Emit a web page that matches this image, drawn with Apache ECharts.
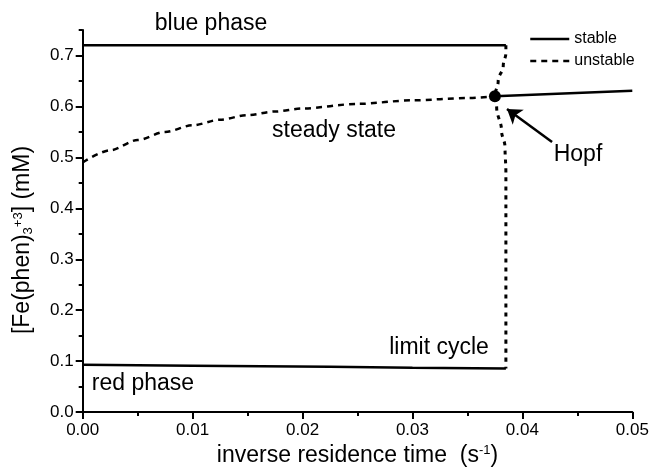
<!DOCTYPE html>
<html>
<head>
<meta charset="utf-8">
<script src="https://cdn.jsdelivr.net/npm/echarts@6/dist/echarts.min.js"></script>
<style>
  html, body { margin: 0; padding: 0; background: #fff; }
  #chart { width: 653px; height: 472px; }
</style>
</head>
<body>
<div id="chart"></div>
<script>
// ticks
var xMajorTicks = [0, 0.01, 0.02, 0.03, 0.04, 0.05];
var xMinorTicks = [0.005, 0.015, 0.025, 0.035, 0.045];
var yMajorTicks = [0, 0.1, 0.2, 0.3, 0.4, 0.5, 0.6, 0.7];
var yMinorTicks = [0.05, 0.15, 0.25, 0.35, 0.45, 0.55, 0.65, 0.75];

// stable branches
var bluePhase = [[0, 0.72], [0.0385, 0.72]];
var redPhase = [[0, 0.093], [0.01, 0.091], [0.0225, 0.089], [0.03, 0.087], [0.0385, 0.0856]];
var stableSteady = [[0.0375, 0.62], [0.05, 0.631]];

// unstable branches
var unstableSteady = [
    [0, 0.49], [0.0025, 0.514], [0.005, 0.534], [0.0075, 0.55], [0.01, 0.563],
    [0.0125, 0.574], [0.015, 0.583], [0.0175, 0.59], [0.02, 0.596], [0.025, 0.605],
    [0.03, 0.612], [0.035, 0.6165], [0.0375, 0.62]
];
var unstableCycle = [
    [0.0385, 0.72], [0.0385, 0.705], [0.03826, 0.68], [0.0378, 0.65], [0.0375, 0.62],
    [0.03766, 0.598], [0.0381, 0.553], [0.03842, 0.52], [0.0385, 0.47], [0.0385, 0.0856]
];

// Hopf point and its pointer
var hopfPoint = [[0.0375, 0.62]];
var hopfArrow = [[0.0427, 0.53], [0.0386, 0.595]];

var myChart = echarts.init(document.getElementById('chart'));
var FONT = '"Liberation Sans", Arial, sans-serif';
var lineW = 2.5;

function axisBase() {
    return {
        type: 'value',
        splitLine: { show: false },
        axisLine: { show: true, onZero: false, lineStyle: { color: '#000', width: 2 } }
    };
}

function label(x, y, text) {
    return {
        type: 'text',
        style: { x: x, y: y, text: text, fontSize: 23, fontFamily: FONT, fill: '#000', textAlign: 'center', textVerticalAlign: 'middle' }
    };
}

var option = {
    animation: false,
    backgroundColor: '#fff',
    textStyle: { fontFamily: FONT, color: '#000' },
    grid: { left: 82.7, right: 20.7, top: 30, bottom: 58 },
    legend: {
        orient: 'vertical',
        left: 524,
        top: 26,
        itemWidth: 39,
        itemHeight: 14,
        itemGap: 6,
        itemStyle: { opacity: 0 },
        lineStyle: { width: 2.5 },
        textStyle: { fontSize: 16, color: '#000', fontFamily: FONT },
        data: ['stable', 'unstable']
    },
    xAxis: [
        Object.assign(axisBase(), {
            min: 0, max: 0.05,
            axisTick: { show: true, length: 7, customValues: xMajorTicks, lineStyle: { color: '#000', width: 2 } },
            axisLabel: {
                customValues: xMajorTicks, margin: 10, fontSize: 17, color: '#000', fontFamily: FONT,
                formatter: function (v) { return v.toFixed(2); }
            },
            name: '{n|inverse residence time  (s}{sup|-1}{n|)}',
            nameLocation: 'middle',
            nameGap: 28,
            nameTextStyle: {
                rich: {
                    n: { fontSize: 23, fontFamily: FONT, color: '#000' },
                    sup: { fontSize: 13, fontFamily: FONT, color: '#000', verticalAlign: 'top' }
                }
            }
        }),
        Object.assign(axisBase(), {
            min: 0, max: 0.05, position: 'bottom',
            axisLine: { show: false },
            axisTick: { show: true, length: 4, customValues: xMinorTicks, lineStyle: { color: '#000', width: 2 } },
            axisLabel: { show: false }
        })
    ],
    yAxis: [
        Object.assign(axisBase(), {
            min: 0, max: 0.75,
            axisTick: { show: true, length: 7, customValues: yMajorTicks, lineStyle: { color: '#000', width: 2 } },
            axisLabel: {
                customValues: yMajorTicks, margin: 9, fontSize: 17, color: '#000', fontFamily: FONT,
                formatter: function (v) { return v.toFixed(1); }
            }
        }),
        Object.assign(axisBase(), {
            min: 0, max: 0.75, position: 'left',
            axisLine: { show: false },
            axisTick: { show: true, length: 4, customValues: yMinorTicks, lineStyle: { color: '#000', width: 2 } },
            axisLabel: { show: false }
        })
    ],
    series: [
        {
            name: 'stable', type: 'line', data: bluePhase, symbol: 'none',
            lineStyle: { color: '#000', width: lineW, type: 'solid' }, itemStyle: { color: '#000' }
        },
        {
            name: 'stable', type: 'line', data: redPhase, symbol: 'none',
            lineStyle: { color: '#000', width: lineW, type: 'solid' }, itemStyle: { color: '#000' }
        },
        {
            name: 'stable', type: 'line', data: stableSteady, symbol: 'none',
            lineStyle: { color: '#000', width: lineW, type: 'solid' }, itemStyle: { color: '#000' }
        },
        {
            name: 'unstable', type: 'line', data: unstableSteady, symbol: 'none',
            smooth: 0.3, smoothMonotone: 'x',
            lineStyle: { color: '#000', width: lineW, type: [6, 5] }, itemStyle: { color: '#000' }
        },
        {
            name: 'unstable', type: 'line', data: unstableCycle, symbol: 'none',
            smooth: 0.4, smoothMonotone: 'y',
            lineStyle: { color: '#000', width: lineW + 0.5, type: [4, 5] }, itemStyle: { color: '#000' }
        },
        {
            name: 'Hopf', type: 'scatter', data: hopfPoint, symbol: 'circle', symbolSize: 12,
            itemStyle: { color: '#000', opacity: 1 }, z: 5,
            markLine: {
                silent: true,
                symbol: ['none', 'arrow'],
                symbolSize: 14,
                label: { show: false },
                lineStyle: { color: '#000', width: 2.5, type: 'solid', opacity: 1 },
                data: [[{ coord: hopfArrow[0] }, { coord: hopfArrow[1] }]]
            }
        }
    ],
    graphic: [
        label(211, 24, 'blue phase'),
        label(334, 131, 'steady state'),
        label(578, 155, 'Hopf'),
        label(439, 348, 'limit cycle'),
        label(143, 384, 'red phase'),
        {
            type: 'text',
            x: 23, y: 240, rotation: Math.PI / 2,
            style: {
                text: '{n|[Fe(phen)}{sub|3}{sup|+3}{n|] (mM)}',
                textAlign: 'center', textVerticalAlign: 'middle',
                rich: {
                    n: { fontSize: 23, fontFamily: FONT, fill: '#000' },
                    sub: { fontSize: 13, fontFamily: FONT, fill: '#000', verticalAlign: 'bottom' },
                    sup: { fontSize: 13, fontFamily: FONT, fill: '#000', verticalAlign: 'top' }
                }
            }
        }
    ]
};

window.addEventListener('resize', myChart.resize);
myChart.setOption(option);
</script>
</body>
</html>
